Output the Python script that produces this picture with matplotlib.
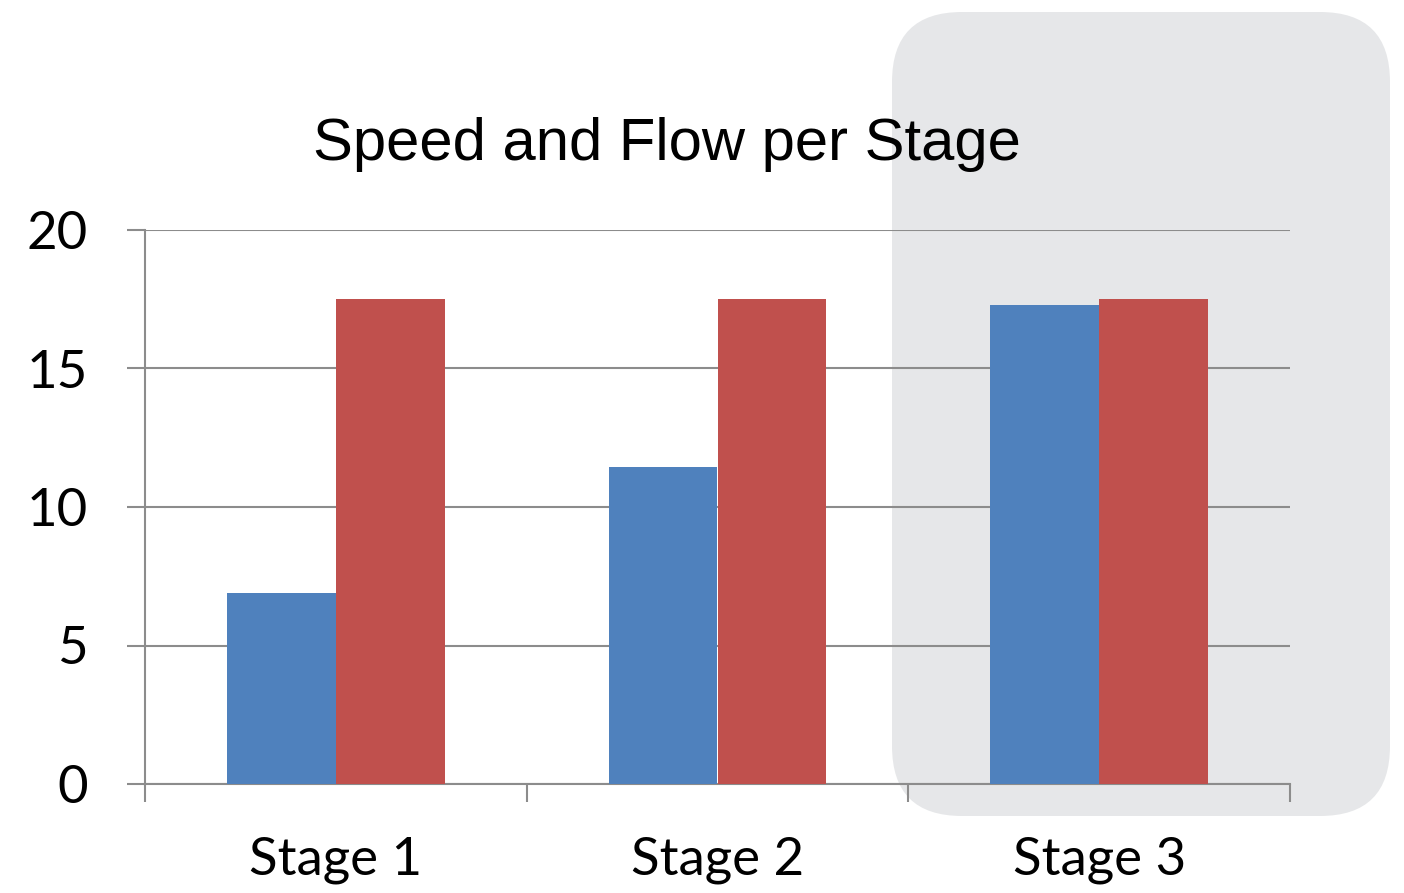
import numpy as np
import matplotlib.pyplot as plt
from matplotlib.patches import FancyBboxPatch

# Chart data
stages = ['Stage 1', 'Stage 2', 'Stage 3']
speed = [6.9, 11.45, 17.3]   # blue series
flow = [17.5, 17.5, 17.5]    # red series
yticks = [0, 5, 10, 15, 20]

blue = '#4f81bd'
red = '#c0504d'
grey = '#8c8c8c'

fig = plt.figure(figsize=(14.04, 8.93), dpi=100)

# Rounded grey highlight behind Stage 3
W, H = 1404, 893
box = FancyBboxPatch((892 / W, (H - 816) / H), (1390 - 892) / W, (816 - 12) / H,
                     boxstyle='round,pad=0,rounding_size=%f' % (70 / W),
                     mutation_aspect=W / H, transform=fig.transFigure,
                     facecolor='#e6e7e9', edgecolor='none', zorder=-1)
fig.patches.append(box)

ax = fig.add_axes([145 / W, (H - 784) / H, (1290 - 145) / W, (784 - 230) / H])
ax.patch.set_alpha(0)

x = np.arange(len(stages))
w = 0.285
ax.bar(x - w / 2, speed, width=w, color=blue, zorder=3)
ax.bar(x + w / 2, flow, width=w, color=red, zorder=3)

ax.set_xlim(-0.5, 2.5)
ax.set_ylim(0, 20)

# Horizontal gridlines
ax.set_yticks(yticks)
ax.yaxis.grid(True, color=grey, linewidth=1.5, zorder=1)
ax.set_axisbelow(True)

for side in ['top', 'right']:
    ax.spines[side].set_visible(False)
for side in ['left', 'bottom']:
    ax.spines[side].set_color(grey)
    ax.spines[side].set_linewidth(1.5)

tick_font = dict(family=['Lato', 'DejaVu Sans'], size=38)
ax.set_yticklabels([str(v) for v in yticks], **tick_font)
ax.tick_params(axis='y', length=13, width=1.5, color=grey, pad=28)

# Category boundaries as major ticks, labels on minor ticks
ax.set_xticks(np.arange(-0.5, 3, 1.0))
ax.set_xticklabels([])
ax.tick_params(axis='x', which='major', length=13, width=1.5, color=grey)
ax.set_xticks(x, minor=True)
ax.set_xticklabels(stages, minor=True, **tick_font)
ax.tick_params(axis='x', which='minor', length=0, pad=38)

fig.text(667 / W, (H - 160) / H, 'Speed and Flow per Stage',
         family=['Liberation Sans', 'DejaVu Sans'], size=43,
         ha='center', va='baseline')

fig.savefig('out.png', dpi=100)
